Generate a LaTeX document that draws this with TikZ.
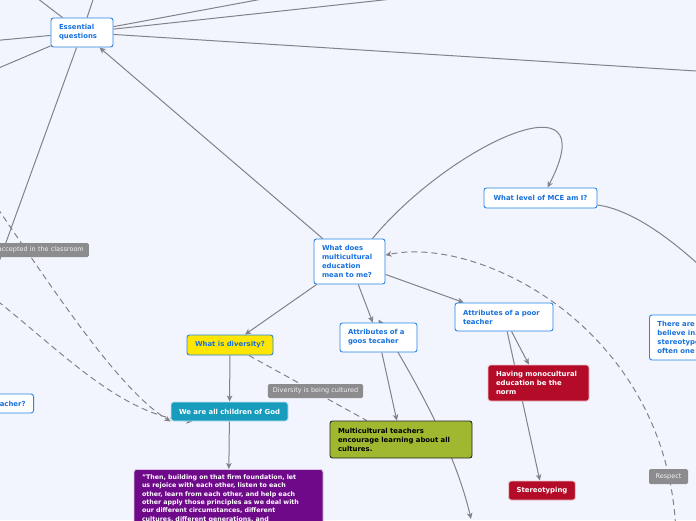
\documentclass[tikz,border=0pt]{standalone}
\usepackage{fontspec}
\setmainfont{DejaVu Sans}
\usepackage{tikz}
\usetikzlibrary{arrows.meta,backgrounds}
\definecolor{mapbg}{RGB}{242,245,253}
\definecolor{mapline}{RGB}{130,130,136}
\definecolor{mapblue}{RGB}{40,132,230}
\definecolor{maptext}{RGB}{22,112,222}
\definecolor{mapyellow}{RGB}{255,230,0}
\definecolor{mapteal}{RGB}{24,156,190}
\definecolor{mappurple}{RGB}{110,10,138}
\definecolor{mapolive}{RGB}{160,184,48}
\definecolor{mapred}{RGB}{180,12,40}
\definecolor{maptag}{RGB}{140,140,142}
\newcommand{\mapfont}{\bfseries\fontsize{6.9}{9}\selectfont}
\newcommand{\quotefont}{\bfseries\fontsize{6.3}{8.4}\selectfont}
\newcommand{\tagfont}{\fontsize{6.5}{7.5}\selectfont}
\tikzset{
    topic/.style={draw=mapblue, fill=white, text=maptext, rounded corners=2.5pt,
        line width=0.9pt, inner xsep=8pt, inner ysep=2pt, align=left, font=\mapfont},
    boxed/.style={topic, draw=white!75!#1, fill=#1, text=white},
    tag/.style={fill=maptag, text=white!88!maptag, rounded corners=1.5pt,
        inner xsep=5pt, inner ysep=2pt, font=\tagfont},
    link/.style={draw=mapline, line width=1pt},
    arr/.style={link, -{Stealth[length=6pt,width=5.5pt,inset=1.5pt]}},
    dashed link/.style={dash pattern=on 6pt off 4pt}
}

\begin{document}
\begin{tikzpicture}[x=1pt, y=-1pt]
        \useasboundingbox (0,0) rectangle (696,520);
        \clip (0,0) rectangle (696,520);

        \node[topic, text width=46pt, minimum height=29pt] (ess) at (82,32.5) {Essential\\questions};
        \node[topic, text width=55pt, minimum height=45pt] (mce) at (349.5,261.5) {What does\\multicultural\\education\\mean to me?};
        \node[topic, align=center, minimum width=113pt, minimum height=20pt] (level) at (540.5,198) {What level of MCE am I?};
        \node[topic, fill=mapyellow, align=center, minimum width=86pt, minimum height=20pt] (diversity) at (230,345) {What is diversity?};
        \node[boxed=mapteal, align=center, minimum width=117pt, minimum height=19pt] (children) at (229.5,411.5) {We are all children of God};
        \node[boxed=mappurple, anchor=north, text width=173pt, inner ysep=5pt, font=\quotefont] (quote) at (228.5,469)
            {"Then, building on that firm foundation, let\\us rejoice with each other, listen to each\\other, learn from each other, and help each\\other apply those principles as we deal with\\our different circumstances, different\\cultures, different generations, and};
        \node[topic, text width=61pt, minimum height=29pt] (goos) at (378.5,337.5) {Attributes of a\\goos tecaher};
        \node[topic, text width=82pt, minimum height=28pt] (poor) at (504,317) {Attributes of a poor\\teacher};
        \node[topic, draw=black!85, fill=mapolive, text=black, text width=126pt, minimum height=37pt] (green) at (401,439.5)
            {Multicultural teachers\\encourage learning about all\\cultures.};
        \node[boxed=mapred, text width=85pt, minimum height=36pt] (mono) at (538.5,383) {Having monocultural\\education be the\\norm};
        \node[boxed=mapred, align=center, minimum width=66pt, minimum height=19pt] (stereo) at (542,490.5) {Stereotyping};
        \node[topic, anchor=east, text width=34pt, align=right, minimum height=19pt] (acher) at (34,403.5) {acher?};
        \node[topic, anchor=west, text width=60pt, minimum height=45pt] (there) at (649,337.5) {There are\\believe in.\\stereotype\\often one};
        \node[tag, minimum width=95pt, minimum height=14pt] (cultured) at (315.5,391) {Diversity is being cultured};
        \node[tag, minimum width=39pt, minimum height=15pt] (respect) at (668.5,476.5) {Respect};
        \node[tag, anchor=east, text width=100pt, align=right, minimum height=14pt] (accepted) at (89,250) {accepted in the classroom};

        \begin{scope}[on background layer]
            \clip (0,0) rectangle (696,520);
            \fill[mapbg] (0,0) rectangle (696,520);
            \coordinate (offN1) at (20,-15);
            \coordinate (offN2) at (97,-12);
            \coordinate (offN3) at (300,-8);
            \coordinate (offN4) at (420,-4);
            \coordinate (offE1) at (720,72.5);
            \coordinate (offW1) at (-20,42);
            \coordinate (offW2) at (-20,76);
            \coordinate (offW3) at (-4,270);
            \coordinate (offW4) at (-8,200);
            \coordinate (offW5) at (-10,295);
            \coordinate (offE2) at (720,285);
            \coordinate (offS1) at (676,535);
            \coordinate (offS2) at (471,519);

            \draw[link] (ess) -- (offN1);
            \draw[link] (ess) -- (offN2);
            \draw[link] (ess) -- (offN3);
            \draw[link] (ess) -- (offN4);
            \draw[link] (ess) -- (offE1);
            \draw[link] (ess) -- (offW1);
            \draw[link] (ess) -- (offW2);
            \draw[link] (ess) -- (offW3);
            \draw[arr] (mce) -- (ess);
            \draw[arr] (mce.45) .. controls (450,145) and (608,72) .. ([xshift=7pt]level.north);
            \draw[link] ([yshift=-7pt]level.east) .. controls (635,210) and (680,245) .. (offE2);
            \draw[arr, dashed link] (offS1) .. controls (670,330) and (480,235) .. (mce.10);
            \draw[arr] (mce) -- (diversity);
            \draw[arr] (mce) -- (goos);
            \draw[arr] (mce) -- (poor);
            \draw[arr] (poor) -- (mono);
            \draw[arr] (poor) -- (stereo);
            \draw[arr] (goos) -- (green);
            \draw[link, {Stealth[length=6pt,width=5.5pt,inset=1.5pt]}-{Stealth[length=6pt,width=5.5pt,inset=1.5pt]}]
                ([yshift=3pt]goos.north) .. controls (415,380) and (455,450) .. (offS2);
            \draw[arr] (diversity) -- (children);
            \draw[arr] (children) -- (quote);
            \draw[link, dashed link] (diversity) -- (green);
            \draw[arr, dashed link] (offW4) .. controls (60,300) and (120,390) .. (children.south west);
            \draw[arr, dashed link] (offW5) .. controls (60,350) and (120,415) .. (children.195);
        \end{scope}
    \end{tikzpicture}
\end{document}
